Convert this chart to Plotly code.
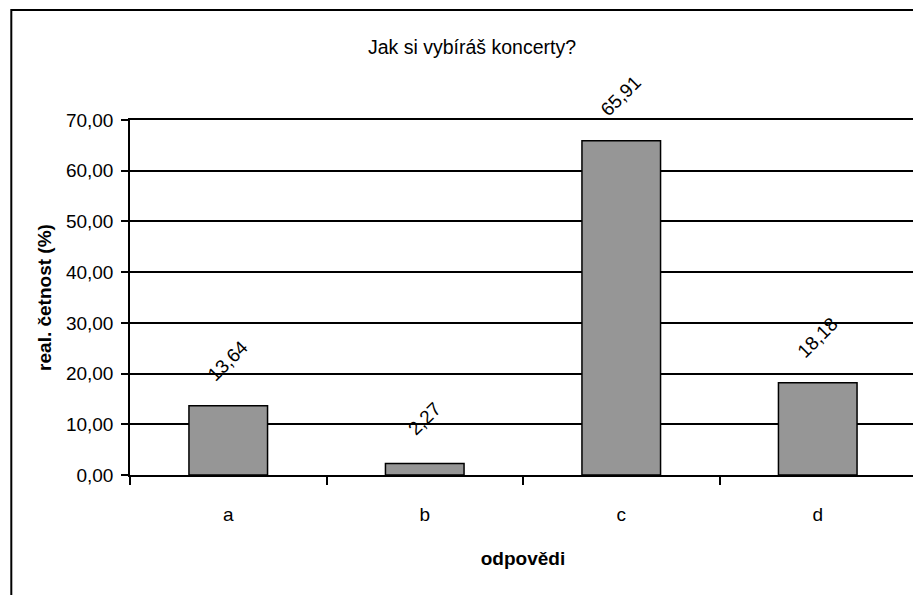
import plotly.graph_objects as go

categories = ["a", "b", "c", "d"]
values = [13.64, 2.27, 65.91, 18.18]
title_text = "Jak si vybíráš koncerty?"
x_title = "odpovědi"
y_title = "real. četnost (%)"

W, H = 921, 595
OFF = 8  # page body offset in the browser
# desired plot area in screen pixels
PX0, PX1, PY0, PY1 = 130, 918, 120, 475
L = PX0 - OFF
T = PY0 - OFF
R = W - (PX1 - OFF)
B = H - (PY1 - OFF)
pw = PX1 - PX0
ph = PY1 - PY0

fig = go.Figure()
fig.add_trace(go.Bar(
    x=categories, y=values, width=0.4,
    marker=dict(color="#969696", line=dict(color="black", width=1.5)),
    hoverinfo="skip",
))

font = "Liberation Sans, Arial, sans-serif"
for c, v in zip(categories, values):
    fig.add_annotation(
        x=c, y=v, xref="x", yref="y",
        text=f"{v:.2f}".replace(".", ","),
        textangle=-45, showarrow=False,
        xanchor="center", yanchor="middle", yshift=45,
        font=dict(family=font, size=19, color="black"),
    )

# outer chart frame (screen coords 11,10 -> beyond right/bottom)
fig.add_shape(
    type="rect", xref="paper", yref="paper",
    x0=(11 - PX0) / pw, x1=(940 - PX0) / pw,
    y0=-(620 - PY1) / ph, y1=(PY1 - 10) / ph,
    line=dict(color="black", width=2), fillcolor="rgba(0,0,0,0)", layer="below",
)

fig.update_layout(
    width=W, height=H,
    margin=dict(l=L, r=R, t=T, b=B, pad=0),
    paper_bgcolor="white", plot_bgcolor="white",
    separators=", ",
    showlegend=False,
    title=dict(text=title_text, x=(472 - OFF) / W, xanchor="center", y=1 - (47 - OFF) / H, yanchor="middle",
               font=dict(family=font, size=19.5, color="black")),
    font=dict(family=font, size=19, color="black"),
)
fig.update_xaxes(
    type="category", range=[-0.5, 3.5],
    showline=True, linecolor="black", linewidth=1.5, mirror=True,
    ticks="outside", tickson="boundaries", ticklen=8, tickwidth=1.5, tickcolor="black",
    ticklabelstandoff=21,
    showgrid=False,
    title=dict(text=f"<b>{x_title}</b>", standoff=28, font=dict(family=font, size=19)),
)
fig.update_yaxes(
    range=[0, 70], dtick=10, tickformat=".2f",
    showline=True, linecolor="black", linewidth=1.5, mirror=True,
    ticks="outside", ticklen=7, tickwidth=1.5, tickcolor="black",
    ticklabelstandoff=4,
    showgrid=True, gridcolor="black", gridwidth=1.5,
    zeroline=False,
    title=dict(text=f"<b>{y_title}</b>", standoff=9, font=dict(family=font, size=19)),
)

fig.write_html("out.html")
